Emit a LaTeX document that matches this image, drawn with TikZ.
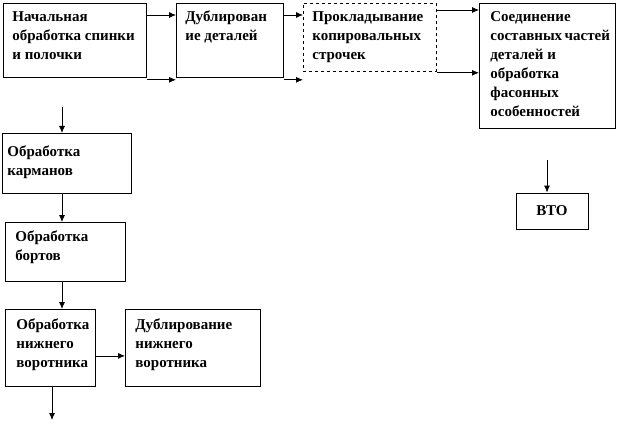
\documentclass[tikz,border=0pt]{standalone}
\usepackage{fontspec}
\setmainfont{Liberation Serif}[BoldFont={Liberation Serif Bold}]
\usetikzlibrary{arrows.meta}
\newcommand{\cell}[4]{\parbox[t][#2pt][t]{#1pt}{\raggedright\hfuzz=20pt\rule{0pt}{#3pt}#4}}

\begin{document}
\begin{tikzpicture}[x=1pt, y=-1pt,
    stage/.style={draw, line width=0.8pt, anchor=north west, inner xsep=9pt, inner ysep=0pt,
      font=\fontsize{15}{19}\selectfont\bfseries},
    arr/.style={-{Latex[length=7pt,width=6pt]}, line width=0.8pt}]
  \useasboundingbox (0,0) rectangle (624,425);
  % top row
  \node[stage] (nach) at (3,3) {\cell{125}{74}{18.5}{Начальная\\обработка спинки\\и полочки}};
  \node[stage] (dubl) at (176,3) {\cell{89}{74}{18.5}{Дублирован\\ие деталей}};
  \node[stage, dashed] (prok) at (303,3) {\cell{115}{68}{18.5}{Прокладывание\\копировальных\\строчек}};
  \node[stage, inner xsep=11pt] (soed) at (479,3) {\cell{114}{125}{18.5}{Соединение\\составных~частей\\деталей и\\обработка\\фасонных\\особенностей}};
  \node[stage, inner xsep=0pt, minimum width=72pt, minimum height=36pt, anchor=center] (vto) at (552,211) {ВТО};
  % left column
  \node[stage, inner xsep=5pt] (karm) at (2,133) {\cell{119}{60}{23.5}{Обработка\\карманов}};
  \node[stage, inner xsep=10pt] (bort) at (5,222) {\cell{100}{59}{19.5}{Обработка\\бортов}};
  \node[stage, inner xsep=11pt] (nizh) at (5,309) {\cell{68}{77}{20.5}{Обработка\\нижнего\\воротника}};
  \node[stage, inner xsep=10pt] (dnizh) at (125,309) {\cell{115}{77}{20.5}{Дублирование\\нижнего\\воротника}};
  \coordinate (vin) at (547,160);
  \coordinate (kin) at (62,107);
  \coordinate (nout) at (52,420);
  \coordinate (pout) at ([yshift=-1pt]prok.south east);
  % connectors
  \draw[arr] ([yshift=-12pt]nach.north east) -- ([yshift=-12pt]dubl.north west);
  \draw[arr] ([yshift=-2pt]nach.south east) -- ([yshift=-2pt]dubl.south west);
  \draw[arr] ([yshift=-12pt]dubl.north east) -- ([yshift=-12pt]prok.north west);
  \draw[arr] ([yshift=-2pt]dubl.south east) -- ([yshift=-8pt]prok.south west);
  \draw[arr] ([yshift=-7pt]prok.north east) -- ([yshift=-7pt]soed.north west);
  \draw[arr] (pout) -- (soed.west |- pout);
  \draw[arr] (vin) -- (vin |- vto.north);
  \draw[arr] (kin) -- (kin |- karm.north);
  \draw[arr] (kin |- karm.south) -- (kin |- bort.north);
  \draw[arr] (kin |- bort.south) -- (kin |- nizh.north);
  \draw[arr] ([yshift=-8pt]nizh.east) -- ([yshift=-8pt]dnizh.west);
  \draw[arr] (nout |- nizh.south) -- (nout);
\end{tikzpicture}
\end{document}
